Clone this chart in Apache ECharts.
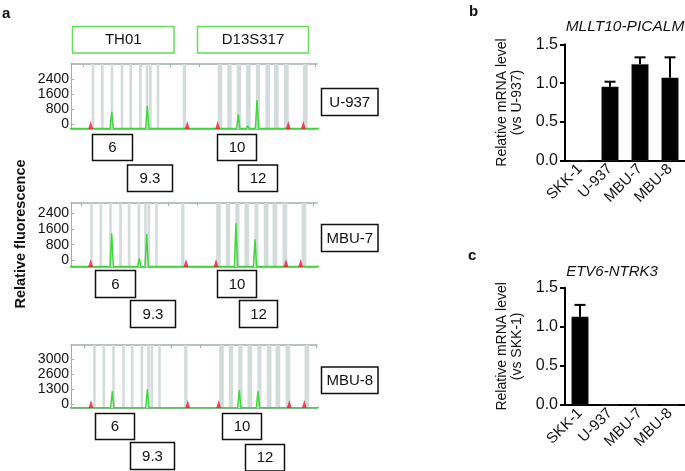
<!DOCTYPE html>
<html><head><meta charset="utf-8">
<script src="https://cdn.jsdelivr.net/npm/echarts@6/dist/echarts.min.js"></script>
<style>html,body{margin:0;padding:0;background:#fff}#c{width:685px;height:471px}</style>
</head><body><div id="c"></div><script>
const FONT = '"Liberation Sans", Arial, Helvetica, sans-serif';

// ---------- panel a : STR electropherograms (scan position, RFU) ----------
const ladderBins = [[20.7,23.3],[30,32.7],[39.7,42.3],[49.7,52.3],[58.3,61],[68,70.7],[74.7,77.3],[78,80.7],[85.7,88.3],[111.7,115],
  [146.7,151.3],[156.3,160.7],[165.7,170],[175,179.7],[185,189],[194.3,199],[203,207.7],[213,217.7],[232,236.7]];
const scanTicks = [12, 41, 70, 99, 128, 157, 186, 215, 244];

const u937Peaks = [[40.7,920],[68,100],[76.3,1240],[167.3,780],[176.7,160],[186,1550],[208,80]];
const mbu7Peaks = [[42.2,1720],[69.8,445],[77.2,1685],[166.5,2230],[185.5,1415]];
const mbu8Peaks = [[39.8,1300],[74.8,1430],[166.8,1377],[185.5,1300]];

const u937SizeStd = [19.7,116.3,146.7,217.3,232.3];
const mbu7SizeStd = [21.2,116.5,146.5,216.5,231.2];
const mbu8SizeStd = [18.5,115.2,146.2,216.8,231.8];

const u937TickLabels = [0, 800, 1600, 2400];
const mbu7TickLabels = [0, 800, 1600, 2400];
const mbu8TickLabels = ['0', '1300', '2600', '3000'];

const lociNames = ['TH01', 'D13S317'];
const sampleNames = ['U-937', 'MBU-7', 'MBU-8'];
const alleleCalls = [['6','9.3','10','12'],['6','9.3','10','12'],['6','9.3','10','12']];

// ---------- panels b, c : qPCR ----------
const cellLines = ['SKK-1', 'U-937', 'MBU-7', 'MBU-8'];
const picalmMean = [0, 0.954, 1.242, 1.07];
const picalmErr  = [0, 0.064, 0.09, 0.262];
const ntrk3Mean  = [1.13, 0, 0, 0];
const ntrk3Err   = [0.15, 0, 0, 0];

// ---------- helpers ----------
function traceFrom(peaks) {
  const pts = [[-5, 25]];
  peaks.forEach(([x, h]) => { pts.push([x - 1.6, 25], [x, h], [x + 1.6, 25]); });
  pts.push([260, 25]);
  return pts;
}
const GRAY = '#a3aeab';
const panels = [
  {top: 64, height: 65, xmin: 0, dmax: 3467, lmin: -253, lmax: 3211, labels: u937TickLabels, idx: false, peaks: u937Peaks, size: u937SizeStd},
  {top: 203, height: 64, xmin: 1.5, dmax: 3268, lmin: -337, lmax: 2931, labels: mbu7TickLabels, idx: false, peaks: mbu7Peaks, size: mbu7SizeStd},
  {top: 345, height: 63, xmin: -1.5, dmax: 4820, lmin: -0.267, lmax: 3.933, labels: mbu8TickLabels, idx: true, peaks: mbu8Peaks, size: mbu8SizeStd}
];

const grid = [], xAxis = [], yAxis = [], series = [];
panels.forEach((p, k) => {
  grid.push({left: 71, top: p.top, width: 246, height: p.height});
  xAxis.push({gridIndex: k, type: 'value', min: p.xmin, max: p.xmin + 246, position: 'bottom',
    axisLine: {show: true, onZero: false, lineStyle: {color: GRAY, width: 1}}, axisTick: {show: false}, axisLabel: {show: false}, splitLine: {show: false}});
  xAxis.push({gridIndex: k, type: 'value', min: p.xmin, max: p.xmin + 246, position: 'top',
    axisLine: {show: true, onZero: false, lineStyle: {color: GRAY, width: 1.5}},
    axisTick: {show: true, inside: true, length: 3, customValues: scanTicks, lineStyle: {color: GRAY}},
    axisLabel: {show: false}, splitLine: {show: false}});
  yAxis.push({gridIndex: k, type: 'value', min: 0, max: p.dmax, show: false, splitLine: {show: false}});
  const vals = p.idx ? p.labels.map((_, i) => i) : p.labels;
  yAxis.push({gridIndex: k, type: 'value', min: p.lmin, max: p.lmax, position: 'left',
    axisLine: {show: true, onZero: false, lineStyle: {color: GRAY, width: 1}},
    axisTick: {show: true, inside: true, length: 3, customValues: vals, lineStyle: {color: GRAY}},
    axisLabel: {show: true, customValues: vals, margin: 2, color: '#111', fontSize: 14, fontFamily: FONT,
      formatter: v => p.idx ? p.labels[Math.round(v)] : String(v)},
    splitLine: {show: false}});
  const xi = 2 * k, yi = 2 * k;
  series.push({type: 'custom', xAxisIndex: xi, yAxisIndex: yi, z: 1, silent: true,
    data: ladderBins,
    renderItem: (params, api) => {
      const cs = params.coordSys;
      const x0 = api.coord([api.value(0), 0])[0], x1 = api.coord([api.value(1), 0])[0];
      return {type: 'rect', shape: {x: x0, y: cs.y, width: x1 - x0, height: cs.height},
        style: {fill: '#d3dcda'}};
    }});
  series.push({type: 'line', xAxisIndex: xi, yAxisIndex: yi, z: 3, data: traceFrom(p.peaks),
    showSymbol: false, silent: true, clip: true,
    lineStyle: {color: '#3fd83a', width: 1.5}});
  series.push({type: 'scatter', xAxisIndex: xi, yAxisIndex: yi, z: 4, silent: true, clip: false,
    data: p.size.map(x => [x, 0]), symbol: 'triangle', symbolSize: [5, 8], symbolOffset: [0, '-50%'],
    itemStyle: {color: '#ec1c34'}});
});

// panels b and c
const barPanels = [
  {top: 44.3, height: 116.4, mean: picalmMean, err: picalmErr, name: 'Relative mRNA level\n(vs U-937)'},
  {top: 287.7, height: 117.3, mean: ntrk3Mean, err: ntrk3Err, name: 'Relative mRNA level\n(vs SKK-1)'}
];
barPanels.forEach((p, j) => {
  const g = 3 + j;
  grid.push({left: 565, top: p.top, width: 120, height: p.height});
  xAxis.push({gridIndex: g, type: 'category', data: cellLines, boundaryGap: true,
    axisLine: {onZero: false, lineStyle: {color: '#000', width: 2}},
    axisTick: {alignWithLabel: true, length: 5, lineStyle: {color: '#000', width: 2}},
    axisLabel: {interval: 0, rotate: 45, margin: 6, fontSize: 15, color: '#111', fontFamily: FONT}});
  yAxis.push({gridIndex: g, type: 'value', min: 0, max: 1.5, interval: 0.5,
    name: p.name, nameLocation: 'middle', nameGap: 40,
    nameTextStyle: {fontSize: 14, lineHeight: 15, color: '#111', fontFamily: FONT},
    axisLine: {show: true, lineStyle: {color: '#000', width: 2}},
    axisTick: {show: true, length: 5, lineStyle: {color: '#000', width: 2}},
    axisLabel: {fontSize: 16, color: '#111', margin: 7, fontFamily: FONT, formatter: v => v.toFixed(1)},
    splitLine: {show: false}});
  const ai = 6 + j;
  series.push({type: 'bar', xAxisIndex: ai, yAxisIndex: ai, data: p.mean, barWidth: 17, z: 2,
    itemStyle: {color: '#000', borderColor: '#333', borderWidth: 0.5}});
  series.push({type: 'custom', xAxisIndex: ai, yAxisIndex: ai, z: 3,
    data: p.mean.map((m, i) => [i, m, p.err[i]]),
    renderItem: (params, api) => {
      const e = api.value(2);
      if (!(e > 0)) return null;
      const top = api.coord([api.value(0), api.value(1) + e]);
      const bot = api.coord([api.value(0), api.value(1)]);
      const st = {stroke: '#000', lineWidth: 2};
      return {type: 'group', children: [
        {type: 'line', shape: {x1: top[0], y1: top[1], x2: bot[0], y2: bot[1]}, style: st},
        {type: 'line', shape: {x1: top[0] - 5.5, y1: top[1], x2: top[0] + 5.5, y2: top[1]}, style: st}
      ]};
    }});
});

// annotation graphics
const gfx = [];
function txt(t, x, y, opts) {
  gfx.push(Object.assign({type: 'text', x: x, y: y, style: Object.assign({text: t, fill: '#111', fontSize: 15,
    fontFamily: FONT, align: 'center', verticalAlign: 'middle'}, opts || {})}));
}
function box(x, y, w, h, t, stroke) {
  gfx.push({type: 'rect', shape: {x: x, y: y, width: w, height: h}, style: {fill: '#fff', stroke: stroke || '#111', lineWidth: 1.5}});
  txt(t, x + w / 2, y + h / 2 + 0.5);
}
txt('a', 2, 14, {fontWeight: 'bold', fontSize: 15, align: 'left'});
txt('b', 469, 12, {fontWeight: 'bold', fontSize: 15, align: 'left'});
txt('c', 468, 256, {fontWeight: 'bold', fontSize: 15, align: 'left'});
box(72.5, 26.5, 101.5, 26.5, lociNames[0], '#62de58');
box(197.5, 26.5, 111, 26.5, lociNames[1], '#62de58');
box(321.5, 88.5, 56.5, 27, sampleNames[0]);
box(321.5, 224.5, 56.5, 27, sampleNames[1]);
box(321.5, 367, 56.5, 26.5, sampleNames[2]);
const alleleBoxes = [
  [[92,134,40,26],[127,164.5,45,26.5],[217,134,39,26],[238,164.5,39,26.5]],
  [[95,270,40,27],[130,300,45,27],[217,270,39,27],[239,300,38,27]],
  [[95,413,39,26],[130,442,44,27],[222,413,39,26],[245,444,39,26.5]]
];
alleleBoxes.forEach((row, r) => row.forEach((b, i) => box(b[0] + 0.5, b[1] + 0.5, b[2], b[3], alleleCalls[r][i])));
gfx.push({type: 'text', x: 21, y: 234, rotation: Math.PI / 2,
  style: {text: 'Relative fluorescence', fontSize: 14.5, fontWeight: 'bold', fill: '#111', fontFamily: FONT, align: 'center', verticalAlign: 'middle'}});
txt('MLLT10-PICALM', 625, 27, {fontStyle: 'italic', fontSize: 15.5});
txt('ETV6-NTRK3', 612, 272, {fontStyle: 'italic', fontSize: 15});

const chart = echarts.init(document.getElementById('c'), null, {renderer: 'canvas'});
chart.setOption({animation: false, backgroundColor: '#fff', grid, xAxis, yAxis, series, graphic: gfx});
</script></body></html>
